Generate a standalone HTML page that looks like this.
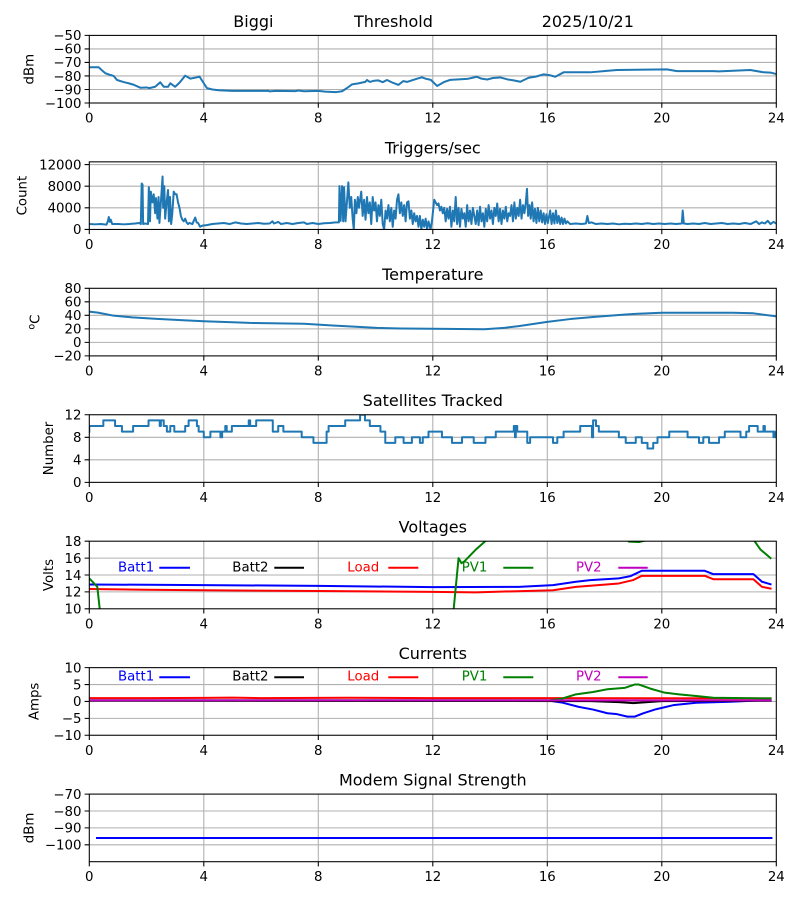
<!DOCTYPE html>
<html><head><meta charset="utf-8"><style>
html,body{margin:0;padding:0;background:#fff;}
svg{display:block;font-family:"DejaVu Sans","Liberation Sans",sans-serif;}
.tl{font-size:13.33px;fill:#000;}
.tt{font-size:16px;fill:#000;}
.g{stroke:#b0b0b0;stroke-width:1.07;fill:none;}
.sp{stroke:#000;stroke-width:1.07;fill:none;}
.d{fill:none;stroke-width:2;stroke-linejoin:round;stroke-linecap:square;}
</style></head><body>
<svg width="800" height="900" viewBox="0 0 800 900" xmlns="http://www.w3.org/2000/svg">
<defs>
<clipPath id="c1"><rect x="89.3" y="35.4" width="687" height="67.6"/></clipPath>
<clipPath id="c2"><rect x="89.3" y="161.85" width="687" height="67.6"/></clipPath>
<clipPath id="c3"><rect x="89.3" y="288.3" width="687" height="67.6"/></clipPath>
<clipPath id="c4"><rect x="89.3" y="414.75" width="687" height="67.6"/></clipPath>
<clipPath id="c5"><rect x="89.3" y="541.2" width="687" height="67.6"/></clipPath>
<clipPath id="c6"><rect x="89.3" y="667.65" width="687" height="67.6"/></clipPath>
<clipPath id="c7"><rect x="89.3" y="794.1" width="687" height="67.6"/></clipPath>
</defs>

<text class="tt" x="233.3" y="27">Biggi</text>
<text class="tt" x="354" y="27">Threshold</text>
<text class="tt" x="541.7" y="27">2025/10/21</text>
<text class="tt" x="432.8" y="153.3" text-anchor="middle">Triggers/sec</text>
<text class="tt" x="432.8" y="279.8" text-anchor="middle">Temperature</text>
<text class="tt" x="432.8" y="406.2" text-anchor="middle">Satellites Tracked</text>
<text class="tt" x="432.8" y="532.7" text-anchor="middle">Voltages</text>
<text class="tt" x="432.8" y="659.1" text-anchor="middle">Currents</text>
<text class="tt" x="432.8" y="785.6" text-anchor="middle">Modem Signal Strength</text>

<g class="g">
<path d="M203.8 35.4V103M318.3 35.4V103M432.8 35.4V103M547.3 35.4V103M661.8 35.4V103"/>
<path d="M203.8 161.85V229.45M318.3 161.85V229.45M432.8 161.85V229.45M547.3 161.85V229.45M661.8 161.85V229.45"/>
<path d="M203.8 288.3V355.9M318.3 288.3V355.9M432.8 288.3V355.9M547.3 288.3V355.9M661.8 288.3V355.9"/>
<path d="M203.8 414.75V482.35M318.3 414.75V482.35M432.8 414.75V482.35M547.3 414.75V482.35M661.8 414.75V482.35"/>
<path d="M203.8 541.2V608.8M318.3 541.2V608.8M432.8 541.2V608.8M547.3 541.2V608.8M661.8 541.2V608.8"/>
<path d="M203.8 667.65V735.25M318.3 667.65V735.25M432.8 667.65V735.25M547.3 667.65V735.25M661.8 667.65V735.25"/>
<path d="M203.8 794.1V861.7M318.3 794.1V861.7M432.8 794.1V861.7M547.3 794.1V861.7M661.8 794.1V861.7"/>
<path d="M89.3 89.48H776.3M89.3 75.96H776.3M89.3 62.44H776.3M89.3 48.92H776.3"/>
<path d="M89.3 207.82H776.3M89.3 186.19H776.3M89.3 164.55H776.3"/>
<path d="M89.3 342.38H776.3M89.3 328.86H776.3M89.3 315.34H776.3M89.3 301.82H776.3"/>
<path d="M89.3 459.82H776.3M89.3 437.28H776.3"/>
<path d="M89.3 591.9H776.3M89.3 575H776.3M89.3 558.1H776.3"/>
<path d="M89.3 718.35H776.3M89.3 701.45H776.3M89.3 684.55H776.3"/>
<path d="M89.3 844.8H776.3M89.3 827.9H776.3M89.3 811H776.3"/>
</g>

<g clip-path="url(#c1)"><g transform="translate(89.3,103) scale(28.625,-1.352) translate(0,100)">
<polyline class="d" stroke="#1f77b4" vector-effect="non-scaling-stroke" points="0,-73.6 0.33,-73.6 0.45,-76 0.56,-78 0.74,-79.3 0.85,-80 0.97,-83 1.2,-84.5 1.37,-85.4 1.55,-86.5 1.78,-88.7 2.0,-88.5 2.1,-89 2.3,-88 2.48,-84.7 2.6,-88 2.75,-88 2.83,-85.4 3.0,-88 3.15,-85 3.35,-79.8 3.53,-82 3.76,-81 3.85,-80.5 4.11,-89 4.3,-90 4.52,-90.6 5,-91 6.26,-91 6.3,-91.4 6.5,-91 7.2,-91.2 7.3,-90.8 7.5,-91.3 8.0,-91 8.24,-91.6 8.6,-92 8.83,-91.3 9.0,-89 9.18,-86.2 9.4,-85.5 9.64,-84.4 9.7,-83 9.8,-84.4 9.95,-83.5 10.1,-83.3 10.25,-84.6 10.4,-83 10.6,-85 10.8,-86.6 10.97,-83.8 11.1,-84.4 11.3,-83 11.45,-82 11.62,-81 11.75,-82 11.93,-82.9 12.15,-87.4 12.4,-84.4 12.61,-82.9 12.9,-82.5 13.2,-82.2 13.35,-81.5 13.54,-80.6 13.7,-82 13.9,-82.6 14.1,-81.5 14.36,-81.1 14.6,-82.5 14.8,-83.2 15.06,-84.3 15.2,-82.8 15.35,-81.3 15.6,-80.5 15.87,-78.8 16.1,-79.5 16.28,-80.6 16.57,-77.3 17.5,-77.3 17.97,-76.4 18.43,-75.6 20.18,-75.1 20.53,-76.4 21.8,-76.4 22,-76.6 23.09,-75.6 23.56,-77.3 23.8,-77.5 24,-78.6"/>
</g></g>

<g clip-path="url(#c2)"><g transform="translate(89.3,229.45) scale(28.625,-0.005408)">
<polyline class="d" stroke="#1f77b4" vector-effect="non-scaling-stroke" points="0,1000 0.2,950 0.4,1000 0.6,900 0.65,1500 0.68,2300 0.72,1400 0.75,1800 0.8,1000 1.0,1000 1.2,950 1.4,1000 1.6,1100 1.75,1200 1.8,1000 1.83,8500 1.86,8300 1.88,1000 1.95,1100 2.05,1000 2.08,7800 2.12,1500 2.15,7000 2.2,5000 2.25,6500 2.3,3000 2.33,5800 2.38,2000 2.42,6000 2.45,1200 2.5,5000 2.56,9800 2.58,4000 2.62,8000 2.65,2000 2.7,5000 2.75,7300 2.78,1500 2.82,6000 2.86,1000 2.9,3000 2.95,7000 3.0,6500 3.05,6500 3.1,5000 3.15,4000 3.2,2500 3.25,1800 3.3,1500 3.35,2000 3.4,1300 3.45,1000 3.5,1200 3.6,1000 3.7,2200 3.75,1300 3.8,1200 3.87,500 3.95,700 4.1,800 4.3,1000 4.5,1100 4.7,1200 4.9,1000 5.1,1300 5.3,1100 5.5,1000 5.7,1100 5.9,1200 6.1,1050 6.3,1100 6.4,1500 6.45,1100 6.6,1400 6.7,1000 6.9,1200 7.1,1000 7.3,1200 7.5,1300 7.6,1000 7.8,1200 8.0,1000 8.2,1150 8.4,1200 8.6,1300 8.72,1300 8.74,8000 8.78,1600 8.83,8000 8.87,1500 8.9,7800 8.95,1500 9.05,8700 9.1,4000 9.15,6000 9.2,2000 9.24,0 9.28,5500 9.33,3000 9.38,6000 9.42,4000 9.5,7000 9.55,2500 9.6,5500 9.65,1800 9.7,6000 9.75,3000 9.8,5000 9.85,1000 9.9,6000 9.95,3500 10.0,5000 10.05,1500 10.1,4500 10.15,2500 10.2,5500 10.25,1000 10.3,0 10.35,3500 10.4,2000 10.45,4500 10.5,1500 10.55,4000 10.6,500 10.65,3500 10.7,2000 10.75,5500 10.8,6500 10.85,3000 10.9,5000 10.95,2500 11.0,4500 11.05,1500 11.1,5000 11.15,5200 11.2,2000 11.25,3500 11.3,1000 11.35,3000 11.4,1500 11.45,2500 11.5,500 11.55,2500 11.6,0 11.65,1800 11.7,500 11.75,2000 11.8,0 11.85,1500 11.92,0 11.97,1500 12.05,5500 12.1,5000 12.15,4500 12.2,4800 12.25,3500 12.3,4200 12.35,3000 12.4,4000 12.45,1500 12.5,3800 12.55,2000 12.6,4200 12.65,500 12.7,3500 12.75,1500 12.8,6000 12.85,1000 12.9,4000 12.95,500 13.0,3800 13.05,2000 13.1,3000 13.15,500 13.2,4500 13.25,1500 13.3,3500 13.35,1000 13.4,4000 13.45,2500 13.5,1000 13.55,3500 13.6,800 13.65,4200 13.7,1500 13.75,3000 13.8,500 13.85,3800 13.9,1500 13.95,4500 14.0,2000 14.05,3500 14.1,1000 14.15,4000 14.2,2500 14.25,4800 14.3,1500 14.35,3800 14.4,1000 14.45,3500 14.5,2000 14.55,4200 14.6,1500 14.65,3000 14.7,2500 14.75,4500 14.8,1500 14.85,5000 14.9,2000 14.95,4000 15.0,2500 15.05,5500 15.1,2000 15.15,4500 15.2,3000 15.25,5000 15.29,7500 15.33,2500 15.38,4500 15.42,2000 15.47,5000 15.52,1500 15.57,3800 15.62,1200 15.67,4000 15.72,1500 15.77,3500 15.82,1300 15.87,3000 15.92,1000 15.97,2800 16.02,1200 16.1,3500 16.15,1000 16.2,3000 16.25,1100 16.3,3500 16.35,1200 16.4,2500 16.45,1000 16.5,2200 16.55,1000 16.6,2000 16.65,1100 16.7,1500 16.8,1000 17.0,1100 17.2,1000 17.35,1100 17.4,2500 17.45,1200 17.55,1300 17.7,1000 17.9,1100 18.1,1000 18.3,1100 18.5,950 18.7,1050 18.9,1000 19.1,1100 19.3,1000 19.5,1150 19.7,1000 19.9,1100 20.1,1000 20.3,1100 20.5,1000 20.7,1100 20.73,3500 20.77,1100 20.9,1000 21.1,1100 21.3,1000 21.5,1200 21.7,1000 21.9,1100 22.1,1200 22.3,1000 22.5,1100 22.7,1000 22.9,1200 23.1,1000 23.3,1500 23.4,1000 23.5,1300 23.6,1100 23.7,1600 23.8,1000 23.9,1400 24,1100"/>
</g></g>

<g clip-path="url(#c3)"><g transform="translate(89.3,355.9) scale(28.625,-0.676) translate(0,20)">
<polyline class="d" stroke="#1f77b4" vector-effect="non-scaling-stroke" points="0,45.5 0.3,44 0.85,39.5 1.5,37 2.36,34.7 3.2,33 4,31.2 5,29.8 5.6,28.8 7.5,27.5 8.5,24.9 10.05,21.5 10.86,20.5 12.5,20 13.8,19.5 14.5,21.5 15,24 16,30.3 16.8,34.5 17.6,37.6 18.5,40.5 19,42 20,43.9 22.5,43.9 23.2,43 24,38.5"/>
</g></g>

<g clip-path="url(#c4)"><g transform="translate(89.3,482.35) scale(28.625,-5.633)">
<polyline class="d" stroke="#1f77b4" vector-effect="non-scaling-stroke" points="0,9 0,10 0.49,10 0.49,11 0.9,11 0.9,10 1.14,10 1.14,9 1.53,9 1.53,10 2.07,10 2.07,11 2.46,11 2.46,10 2.5,10 2.5,11 2.6,11 2.6,10 2.71,10 2.71,9 2.83,9 2.83,10 2.97,10 2.97,9 3.35,9 3.35,10 3.47,10 3.47,11 3.76,11 3.76,10 3.82,10 3.82,9 4.0,9 4.0,8 4.23,8 4.23,9 4.58,9 4.58,8 4.64,8 4.64,9 4.75,9 4.75,10 4.8,10 4.8,9 4.98,9 4.98,10 5.57,10 5.57,11 5.62,11 5.62,10 5.83,10 5.83,11 6.41,11 6.41,9 6.6,9 6.6,10 6.78,10 6.78,9 7.42,9 7.42,8 7.83,8 7.83,7 8.29,7 8.29,9 8.36,9 8.36,10 8.94,10 8.94,11 9.46,11 9.46,12 9.63,12 9.63,11 9.8,11 9.8,10 10.17,10 10.17,9 10.34,9 10.34,7 10.69,7 10.69,8 10.98,8 10.98,7 11.27,7 11.27,8 11.55,8 11.55,7 11.65,7 11.65,8 11.85,8 11.85,9 12.32,9 12.32,8 12.67,8 12.67,7 13.02,7 13.02,8 13.43,8 13.43,7 13.84,7 13.84,8 14.2,8 14.2,9 14.83,9 14.83,10 14.87,10 14.87,8 14.9,8 14.9,10 14.95,10 14.95,9 15.3,9 15.3,7 15.4,7 15.4,8 16.2,8 16.2,7 16.35,7 16.35,8 16.57,8 16.57,9 17.15,9 17.15,10 17.56,10 17.56,8 17.6,8 17.6,11 17.7,11 17.7,10 17.8,10 17.8,9 18.5,9 18.5,8 18.74,8 18.74,7 19.09,7 19.09,8 19.3,8 19.3,7 19.5,7 19.5,6 19.7,6 19.7,7 19.85,7 19.85,8 20.26,8 20.26,9 20.9,9 20.9,8 21.3,8 21.3,7 21.45,7 21.45,8 21.65,8 21.65,7 22.0,7 22.0,8 22.2,8 22.2,9 22.75,9 22.75,8 22.95,8 22.95,9 23.05,9 23.05,10 23.35,10 23.35,9 23.55,9 23.55,10 23.6,10 23.6,9 23.9,9 23.9,8 23.93,9 23.96,8 24,9"/>
</g></g>

<g clip-path="url(#c5)"><g transform="translate(89.3,608.8) scale(28.625,-8.45) translate(0,-10)">
<polyline class="d" stroke="#0000ff" vector-effect="non-scaling-stroke" points="0,12.88 4,12.8 8,12.72 12,12.56 15,12.6 16.2,12.8 17,13.2 17.5,13.4 18.5,13.6 18.9,13.86 19.3,14.5 21.5,14.5 21.8,14.1 23.2,14.1 23.5,13.2 23.8,12.9"/>
<polyline class="d" stroke="#ff0000" vector-effect="non-scaling-stroke" points="0,12.35 2,12.25 4,12.2 8,12.1 12,12.0 13.5,11.95 16.2,12.2 17,12.6 18.5,13.0 19,13.4 19.3,13.9 21.5,13.9 21.8,13.5 23.2,13.5 23.5,12.6 23.8,12.4"/>
<polyline class="d" stroke="#008000" vector-effect="non-scaling-stroke" points="0,13.6 0.28,12.6 0.38,9.5 0.5,0 12.4,0 12.73,10 12.9,16 13.0,15.4 13.1,15.6 13.5,17 13.9,18.2 14.2,19.5 18.6,19.5 18.85,17.95 19.2,17.9 19.45,18.1 19.7,19.5 22.9,19.5 23.2,18.2 23.45,17.0 23.8,16.0"/>
</g></g>
<text class="tl" x="118" y="571.7" style="fill:#0000ff">Batt1</text>
<text class="tl" x="232.3" y="571.7">Batt2</text>
<text class="tl" x="347.3" y="571.7" style="fill:#ff0000">Load</text>
<text class="tl" x="461.7" y="571.7" style="fill:#008000">PV1</text>
<text class="tl" x="576" y="571.7" style="fill:#bf00bf">PV2</text>
<g stroke-width="2">
<path d="M159.3 567.7H190" stroke="#0000ff"/>
<path d="M274.3 567.7H304" stroke="#000"/>
<path d="M388.3 567.7H418.3" stroke="#ff0000"/>
<path d="M503.3 567.7H533.3" stroke="#008000"/>
<path d="M618.3 567.7H647.7" stroke="#bf00bf"/>
</g>

<g clip-path="url(#c6)"><g transform="translate(89.3,735.25) scale(28.625,-3.38) translate(0,10)">
<polyline class="d" stroke="#0000ff" vector-effect="non-scaling-stroke" points="0,0.3 16,0.3 16.5,-0.3 17.1,-1.6 17.6,-2.4 18.1,-3.5 18.4,-3.7 18.8,-4.5 19.05,-4.5 19.35,-3.5 19.8,-2.3 20.4,-1.1 21.2,-0.4 22.4,-0.1 23.6,0.4 23.8,0.4"/>
<polyline class="d" stroke="#000000" vector-effect="non-scaling-stroke" points="0,0.2 17.5,0.1 18.5,-0.2 19,-0.5 19.5,-0.2 20,0.1 23.8,0.2"/>
<polyline class="d" stroke="#ff0000" vector-effect="non-scaling-stroke" points="0,1.0 2,1.0 4,1.05 5,1.15 6,1.0 8,1.05 9,1.1 12,1.0 16,1.0 20,0.95 23.8,0.9"/>
<polyline class="d" stroke="#008000" vector-effect="non-scaling-stroke" points="0,0.3 16,0.3 16.5,0.8 17.0,2.1 17.6,2.8 18.1,3.6 18.7,4.0 19.05,5.0 19.2,5.0 19.6,3.8 20.1,2.6 20.6,2.1 21.2,1.6 21.8,1.1 23.6,0.9 23.8,0.9"/>
<polyline class="d" stroke="#bf00bf" vector-effect="non-scaling-stroke" points="0,0.3 23.8,0.3"/>
</g></g>
<text class="tl" x="118" y="680.7" style="fill:#0000ff">Batt1</text>
<text class="tl" x="232.3" y="680.7">Batt2</text>
<text class="tl" x="347.3" y="680.7" style="fill:#ff0000">Load</text>
<text class="tl" x="461.7" y="680.7" style="fill:#008000">PV1</text>
<text class="tl" x="576" y="680.7" style="fill:#bf00bf">PV2</text>
<g stroke-width="2">
<path d="M159.3 677.3H190" stroke="#0000ff"/>
<path d="M274.3 677.3H304" stroke="#000"/>
<path d="M388.3 677.3H418.3" stroke="#ff0000"/>
<path d="M503.3 677.3H533.3" stroke="#008000"/>
<path d="M618.3 677.3H647.7" stroke="#bf00bf"/>
</g>

<g clip-path="url(#c7)"><g transform="translate(89.3,861.7) scale(28.625,-1.69) translate(0,110)">
<polyline class="d" stroke="#0000ff" vector-effect="non-scaling-stroke" points="0.27,-96 23.83,-96"/>
</g></g>

<g class="sp">
<rect x="89.3" y="35.4" width="687" height="67.6"/>
<rect x="89.3" y="161.85" width="687" height="67.6"/>
<rect x="89.3" y="288.3" width="687" height="67.6"/>
<rect x="89.3" y="414.75" width="687" height="67.6"/>
<rect x="89.3" y="541.2" width="687" height="67.6"/>
<rect x="89.3" y="667.65" width="687" height="67.6"/>
<rect x="89.3" y="794.1" width="687" height="67.6"/>
</g>

<g class="sp">
<path d="M89.3 103v4.7M203.8 103v4.7M318.3 103v4.7M432.8 103v4.7M547.3 103v4.7M661.8 103v4.7M776.3 103v4.7"/>
<path d="M89.3 229.45v4.7M203.8 229.45v4.7M318.3 229.45v4.7M432.8 229.45v4.7M547.3 229.45v4.7M661.8 229.45v4.7M776.3 229.45v4.7"/>
<path d="M89.3 355.9v4.7M203.8 355.9v4.7M318.3 355.9v4.7M432.8 355.9v4.7M547.3 355.9v4.7M661.8 355.9v4.7M776.3 355.9v4.7"/>
<path d="M89.3 482.35v4.7M203.8 482.35v4.7M318.3 482.35v4.7M432.8 482.35v4.7M547.3 482.35v4.7M661.8 482.35v4.7M776.3 482.35v4.7"/>
<path d="M89.3 608.8v4.7M203.8 608.8v4.7M318.3 608.8v4.7M432.8 608.8v4.7M547.3 608.8v4.7M661.8 608.8v4.7M776.3 608.8v4.7"/>
<path d="M89.3 735.25v4.7M203.8 735.25v4.7M318.3 735.25v4.7M432.8 735.25v4.7M547.3 735.25v4.7M661.8 735.25v4.7M776.3 735.25v4.7"/>
<path d="M89.3 861.7v4.7M203.8 861.7v4.7M318.3 861.7v4.7M432.8 861.7v4.7M547.3 861.7v4.7M661.8 861.7v4.7M776.3 861.7v4.7"/>
<path d="M84.6 103H89.3M84.6 89.48H89.3M84.6 75.96H89.3M84.6 62.44H89.3M84.6 48.92H89.3M84.6 35.4H89.3"/>
<path d="M84.6 229.45H89.3M84.6 207.82H89.3M84.6 186.19H89.3M84.6 164.55H89.3"/>
<path d="M84.6 355.9H89.3M84.6 342.38H89.3M84.6 328.86H89.3M84.6 315.34H89.3M84.6 301.82H89.3M84.6 288.3H89.3"/>
<path d="M84.6 482.35H89.3M84.6 459.82H89.3M84.6 437.28H89.3M84.6 414.75H89.3"/>
<path d="M84.6 608.8H89.3M84.6 591.9H89.3M84.6 575H89.3M84.6 558.1H89.3M84.6 541.2H89.3"/>
<path d="M84.6 735.25H89.3M84.6 718.35H89.3M84.6 701.45H89.3M84.6 684.55H89.3M84.6 667.65H89.3"/>
<path d="M84.6 844.8H89.3M84.6 827.9H89.3M84.6 811H89.3M84.6 794.1H89.3"/>
</g>

<g class="tl" text-anchor="middle">
<text x="89.3" y="122.5">0</text><text x="203.8" y="122.5">4</text><text x="318.3" y="122.5">8</text><text x="432.8" y="122.5">12</text><text x="547.3" y="122.5">16</text><text x="661.8" y="122.5">20</text><text x="776.3" y="122.5">24</text>
<text x="89.3" y="249">0</text><text x="203.8" y="249">4</text><text x="318.3" y="249">8</text><text x="432.8" y="249">12</text><text x="547.3" y="249">16</text><text x="661.8" y="249">20</text><text x="776.3" y="249">24</text>
<text x="89.3" y="375.4">0</text><text x="203.8" y="375.4">4</text><text x="318.3" y="375.4">8</text><text x="432.8" y="375.4">12</text><text x="547.3" y="375.4">16</text><text x="661.8" y="375.4">20</text><text x="776.3" y="375.4">24</text>
<text x="89.3" y="501.9">0</text><text x="203.8" y="501.9">4</text><text x="318.3" y="501.9">8</text><text x="432.8" y="501.9">12</text><text x="547.3" y="501.9">16</text><text x="661.8" y="501.9">20</text><text x="776.3" y="501.9">24</text>
<text x="89.3" y="628.3">0</text><text x="203.8" y="628.3">4</text><text x="318.3" y="628.3">8</text><text x="432.8" y="628.3">12</text><text x="547.3" y="628.3">16</text><text x="661.8" y="628.3">20</text><text x="776.3" y="628.3">24</text>
<text x="89.3" y="754.8">0</text><text x="203.8" y="754.8">4</text><text x="318.3" y="754.8">8</text><text x="432.8" y="754.8">12</text><text x="547.3" y="754.8">16</text><text x="661.8" y="754.8">20</text><text x="776.3" y="754.8">24</text>
<text x="89.3" y="881.2">0</text><text x="203.8" y="881.2">4</text><text x="318.3" y="881.2">8</text><text x="432.8" y="881.2">12</text><text x="547.3" y="881.2">16</text><text x="661.8" y="881.2">20</text><text x="776.3" y="881.2">24</text>
</g>

<g class="tl" text-anchor="end">
<text x="81.5" y="107.8">−100</text><text x="81.5" y="94.3">−90</text><text x="81.5" y="80.8">−80</text><text x="81.5" y="67.2">−70</text><text x="81.5" y="53.7">−60</text><text x="81.5" y="40.2">−50</text>
<text x="81.5" y="234.2">0</text><text x="81.5" y="212.6">4000</text><text x="81.5" y="191">8000</text><text x="81.5" y="169.3">12000</text>
<text x="81.5" y="360.7">−20</text><text x="81.5" y="347.2">0</text><text x="81.5" y="333.7">20</text><text x="81.5" y="320.1">40</text><text x="81.5" y="306.6">60</text><text x="81.5" y="293.1">80</text>
<text x="81.5" y="487.1">0</text><text x="81.5" y="464.6">4</text><text x="81.5" y="442.1">8</text><text x="81.5" y="419.5">12</text>
<text x="81.5" y="613.6">10</text><text x="81.5" y="596.7">12</text><text x="81.5" y="579.8">14</text><text x="81.5" y="562.9">16</text><text x="81.5" y="546">18</text>
<text x="81.5" y="740">−10</text><text x="81.5" y="723.1">−5</text><text x="81.5" y="706.2">0</text><text x="81.5" y="689.3">5</text><text x="81.5" y="672.4">10</text>
<text x="81.5" y="849.6">−100</text><text x="81.5" y="832.7">−90</text><text x="81.5" y="815.8">−80</text><text x="81.5" y="798.9">−70</text>
</g>

<g class="tl" text-anchor="middle">
<text transform="translate(33.3,69.2) rotate(-90)">dBm</text>
<text transform="translate(26.7,195.6) rotate(-90)">Count</text>
<text transform="translate(39.5,322.1) rotate(-90)"><tspan font-size="9.5" dy="-5">o</tspan><tspan dy="5">C</tspan></text>
<text transform="translate(53,448.5) rotate(-90)">Number</text>
<text transform="translate(53,575) rotate(-90)">Volts</text>
<text transform="translate(38.7,701.4) rotate(-90)">Amps</text>
<text transform="translate(33.3,827.9) rotate(-90)">dBm</text>
</g>
</svg>
</body></html>
